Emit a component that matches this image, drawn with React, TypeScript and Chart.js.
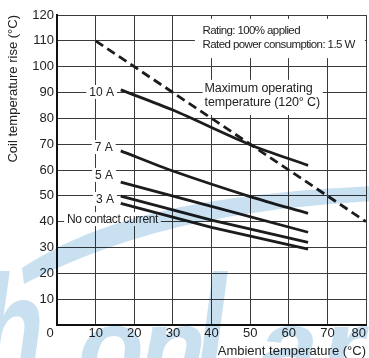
import React, { useEffect, useRef } from "react";
import { Chart, registerables } from "chart.js";

Chart.register(...registerables);

const FONT = "'Liberation Sans', Arial, Helvetica, sans-serif";

// Axis ranges / ticks
const xMin = 0;
const xMax = 80;
const yMin = 0;
const yMax = 120;
const tickStep = 10;

// Series data (ambient temperature °C -> coil temperature rise °C)
const maxTempX = [10, 80];
const maxTempY = [110, 40];
const x10A = [16.5, 30, 50, 65];
const y10A = [91, 83.2, 69.8, 61.8];
const x7A = [16.5, 30, 50, 65];
const y7A = [67.4, 59.6, 49.7, 43.2];
const x5A = [16.5, 40, 65];
const y5A = [55.3, 45.9, 35.9];
const x3A = [16.5, 40, 65];
const y3A = [49.9, 40.6, 32];
const x0A = [16.5, 40, 65];
const y0A = [47.1, 37.8, 29.4];

// Texts
const curveNames = ["10 A", "7 A", "5 A", "3 A", "No contact current"];
const ratingLines = ["Rating: 100% applied", "Rated power consumption: 1.5 W"];
const maxTempLines = ["Maximum operating", "temperature (120\u00b0 C)"];
const xTitle = "Ambient temperature (\u00b0C)";
const yTitle = "Coil temperature rise (\u00b0C)";
const watermarkLetters = ["h", "o", "n", "l", "a", "r"];

const zip = (xs: number[], ys: number[]) => xs.map((x, i) => ({ x, y: ys[i] }));

const textPlugin = {
  id: "annotText",
  beforeDatasetsDraw(chart: any) {
    const { ctx, scales } = chart;
    const px = (v: number) => scales.x.getPixelForValue(v);
    const py = (v: number) => scales.y.getPixelForValue(v);
    ctx.save();
    ctx.fillStyle = "#ffffff";
    // rating box
    ctx.fillRect(px(35.7), py(118.5), px(79.7) - px(35.7), py(103.3) - py(118.5));
    // max temp box
    ctx.fillRect(px(37.7), py(94.9), px(68.8) - px(37.7), py(81.3) - py(94.9));

    const drawLabel = (t: string, xv: number, yv: number, align: "center" | "left", ls: string, size: number) => {
      ctx.font = `${size}px ${FONT}`;
      (ctx as any).letterSpacing = ls;
      const w = ctx.measureText(t).width;
      const x = px(xv);
      const y = py(yv);
      const left = align === "center" ? x - w / 2 : x;
      ctx.fillStyle = "#ffffff";
      ctx.fillRect(left - 3, y - 7, w + 6, 14);
      ctx.fillStyle = "#222222";
      ctx.textAlign = align;
      ctx.textBaseline = "middle";
      ctx.fillText(t, x, y + 0.5);
    };
    drawLabel(curveNames[0], 11.55, 90.2, "center", "0px", 12);
    drawLabel(curveNames[1], 12.1, 68.9, "center", "0px", 12);
    drawLabel(curveNames[2], 12.2, 58.1, "center", "0px", 12);
    drawLabel(curveNames[3], 12.4, 48.8, "center", "0px", 12);
    drawLabel(curveNames[4], 2.6, 41, "left", "-0.4px", 12);

    ctx.fillStyle = "#222222";
    ctx.textAlign = "left";
    ctx.textBaseline = "middle";
    ctx.font = `11.5px ${FONT}`;
    (ctx as any).letterSpacing = "-0.6px";
    ctx.fillText(ratingLines[0], px(37.7), py(114));
    ctx.fillText(ratingLines[1], px(37.7), py(108.5));
    ctx.font = `12.5px ${FONT}`;
    (ctx as any).letterSpacing = "-0.1px";
    ctx.fillText(maxTempLines[0], px(38.2), py(91.4));
    ctx.fillText(maxTempLines[1], px(38.2), py(86));

    // origin label
    ctx.font = `13px ${FONT}`;
    (ctx as any).letterSpacing = "0px";
    ctx.textAlign = "center";
    ctx.fillText("0", px(0) - 7, scales.y.getPixelForValue(0) + 8.5);
    ctx.restore();
  },
};

const watermarkPlugin = {
  id: "watermark",
  afterDraw(chart: any) {
    const { ctx } = chart;
    ctx.save();
    ctx.globalCompositeOperation = "multiply";
    ctx.fillStyle = "#c9e0f1";
    // swoosh band
    ctx.beginPath();
    ctx.moveTo(22, 268);
    ctx.bezierCurveTo(90, 224, 180, 195, 372, 186);
    ctx.lineTo(372, 201);
    ctx.bezierCurveTo(220, 210, 120, 235, 24, 284);
    ctx.closePath();
    ctx.fill();
    // big italic logo letters
    ctx.textBaseline = "alphabetic";
    ctx.textAlign = "left";
    const lx = [-22, 78, 140, 196, 258, 322];
    watermarkLetters.forEach((ch, i) => {
      const tall = ch === "h" || ch === "l";
      ctx.save();
      ctx.translate(lx[i], 384);
      ctx.scale(1, tall ? 1.45 : 1);
      ctx.font = `italic bold 108px ${FONT}`;
      ctx.fillText(ch, 0, 0);
      ctx.restore();
    });
    ctx.restore();
  },
};

export default function App() {
  const ref = useRef<HTMLCanvasElement | null>(null);
  useEffect(() => {
    if (!ref.current) return;
    const solid = (data: { x: number; y: number }[], tension: number) => ({
      data,
      borderColor: "#1c1c1c",
      borderWidth: 2.8,
      pointRadius: 0,
      tension,
      fill: false,
    });
    const chart = new Chart(ref.current, {
      type: "line",
      data: {
        datasets: [
          {
            data: zip(maxTempX, maxTempY),
            borderColor: "#1c1c1c",
            borderWidth: 2.8,
            borderDash: [9, 5],
            pointRadius: 0,
            fill: false,
          },
          solid(zip(x10A, y10A), 0.3),
          solid(zip(x7A, y7A), 0.3),
          solid(zip(x5A, y5A), 0),
          solid(zip(x3A, y3A), 0),
          solid(zip(x0A, y0A), 0),
        ],
      },
      options: {
        animation: false,
        responsive: true,
        maintainAspectRatio: false,
        layout: { padding: { top: 15, right: 3, left: 0, bottom: 0 } },
        plugins: { legend: { display: false }, tooltip: { enabled: false } },
        scales: {
          x: {
            type: "linear",
            min: xMin,
            max: xMax,
            afterFit: (s: any) => {
              s.height = 33;
            },
            ticks: {
              stepSize: tickStep,
              align: "inner",
              padding: 1,
              color: "#222",
              font: { family: FONT, size: 13 },
              callback: (v: any) => (v === 0 ? "" : String(v)),
            },
            grid: { color: "#3a3a3a", lineWidth: 1, drawTicks: false },
            border: { color: "#111", width: 2 },
            title: {
              display: true,
              text: xTitle,
              align: "end",
              color: "#222",
              font: { family: FONT, size: 13, lineHeight: 1 },
              padding: { top: 0, bottom: 0 },
            },
          },
          y: {
            type: "linear",
            min: yMin,
            max: yMax,
            afterFit: (s: any) => {
              s.width = 57;
            },
            ticks: {
              stepSize: tickStep,
              padding: 3,
              color: "#222",
              font: { family: FONT, size: 13 },
              callback: (v: any) => (v === 0 ? "" : String(v)),
            },
            grid: { color: "#3a3a3a", lineWidth: 1, drawTicks: false },
            border: { color: "#111", width: 2 },
            title: {
              display: true,
              text: yTitle,
              align: "end",
              color: "#222",
              font: { family: FONT, size: 13, lineHeight: 1 },
              padding: { top: 7, bottom: 0 },
            },
          },
        },
      },
      plugins: [textPlugin, watermarkPlugin],
    } as any);
    return () => chart.destroy();
  }, []);
  return (
    <div style={{ position: "fixed", left: 0, top: 0, width: 369, height: 358, background: "#fff" }}>
      <canvas ref={ref} />
    </div>
  );
}
